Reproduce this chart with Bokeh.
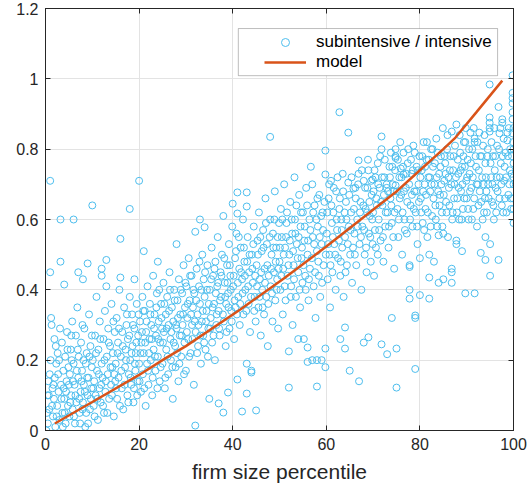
from bokeh.plotting import figure
from bokeh.models import (ColumnDataSource, FixedTicker, NumeralTickFormatter, LinearAxis,
                          Legend, LegendItem, BoxAnnotation, Range1d)
from bokeh.embed import file_html
from bokeh.resources import INLINE

# ---- data ----
pts = [
 (0.5,0.02),(0.8,0.06),(1.0,0.71),(1.0,0.45),(1.2,0.32),(1.3,0.3),(1.5,0.12),(1.6,0.04),(1.8,0.09),(2.0,0.15),(2.1,0.01),(2.3,0.19),(2.5,0.07),(2.6,0.22),(2.8,0.11),(3.0,0.03),(3.2,0.6),(3.2,0.48),(3.3,0.13),(3.5,0.25),(3.6,0.05),(3.8,0.17),(4.0,0.415),(4.0,0.09),(4.2,0.21),(4.3,0.02),(4.5,0.14),(4.6,0.28),(4.8,0.07),(4.9,0.18),(1.1,0.2),(2.2,0.24),(0.6,0.14),(0.7,0.1),(3.9,0.12),
 (5.1,0.04),(5.2,0.16),(5.4,0.23),(5.5,0.1),(5.7,0.31),(5.8,0.06),(6.0,0.6),(6.0,0.19),(6.2,0.13),(6.3,0.02),(6.5,0.27),(6.6,0.08),(6.8,0.35),(7.0,0.45),(7.0,0.15),(7.1,0.21),(7.3,0.05),(7.5,0.11),(7.6,0.25),(7.8,0.17),(8.0,0.43),(8.0,0.08),(8.2,0.13),(8.3,0.29),(8.5,0.01),(8.6,0.19),(8.8,0.22),(9.0,0.475),(9.0,0.1),(9.2,0.15),(9.3,0.33),(9.5,0.06),(9.6,0.24),(9.8,0.12),(9.9,0.18),
 (10.0,0.64),(10.1,0.2),(10.3,0.07),(10.4,0.14),(10.6,0.27),(10.7,0.1),(10.9,0.38),(11.0,0.17),(11.2,0.03),(11.3,0.23),(11.5,0.12),(11.6,0.31),(11.8,0.08),(12.0,0.46),(12.0,0.44),(12.0,0.19),(12.2,0.15),(12.4,0.26),(12.5,0.05),(12.7,0.34),(12.8,0.11),(13.0,0.485),(13.0,0.41),(13.1,0.21),(13.3,0.16),(13.4,0.29),(13.6,0.09),(13.8,0.24),(14.0,0.13),(14.1,0.36),(14.3,0.18),(14.4,0.22),(14.6,0.04),(14.8,0.28),(14.9,0.14),
 (15.0,0.19),(15.2,0.32),(15.3,0.09),(15.5,0.25),(15.6,0.15),(15.8,0.4),(16.0,0.545),(16.0,0.435),(16.1,0.21),(16.3,0.12),(16.4,0.28),(16.6,0.06),(16.8,0.35),(17.0,0.18),(17.1,0.23),(17.3,0.3),(17.5,0.1),(17.6,0.26),(17.8,0.16),(18.0,0.63),(18.0,0.38),(18.1,0.2),(18.3,0.13),(18.5,0.33),(18.6,0.24),(18.8,0.08),(19.0,0.43),(19.0,0.29),(19.2,0.17),(19.3,0.22),(19.5,0.36),(19.7,0.14),(19.8,0.27),(20.0,0.71),(20.0,0.19),
 (20.2,0.31),(20.4,0.11),(20.5,0.25),(20.7,0.38),(20.8,0.16),(21.0,0.51),(21.0,0.22),(21.2,0.34),(21.4,0.07),(21.5,0.28),(21.7,0.19),(21.8,0.41),(22.0,0.13),(22.2,0.26),(22.3,0.36),(22.5,0.2),(22.6,0.3),(22.8,0.1),(23.0,0.44),(23.1,0.23),(23.3,0.33),(23.5,0.17),(23.6,0.27),(23.8,0.39),(24.0,0.48),(24.0,0.21),(24.2,0.31),(24.4,0.14),(24.5,0.25),(24.7,0.36),(24.9,0.29),
 (25.0,0.19),(25.2,0.42),(25.3,0.28),(25.5,0.12),(25.7,0.33),(25.8,0.23),(26.0,0.38),(26.2,0.16),(26.3,0.3),(26.5,0.45),(26.7,0.26),(26.8,0.2),(27.0,0.35),(27.2,0.09),(27.3,0.31),(27.5,0.4),(27.7,0.24),(27.8,0.18),(28.0,0.53),(28.0,0.29),(28.2,0.37),(28.4,0.14),(28.5,0.43),(28.7,0.27),(28.8,0.33),(29.0,0.21),(29.2,0.39),(29.3,0.3),(29.5,0.47),(29.7,0.25),(29.8,0.35),
 (30.0,0.17),(30.1,0.41),(30.3,0.32),(30.5,0.26),(30.6,0.49),(30.8,0.37),(31.0,0.22),(31.2,0.44),(31.3,0.3),(31.5,0.35),(31.7,0.13),(31.8,0.39),(32.0,0.565),(32.0,0.014),(32.1,0.28),(32.3,0.46),(32.5,0.33),(32.6,0.24),(32.8,0.41),(33.0,0.6),(33.0,0.36),(33.2,0.19),(33.4,0.31),(33.5,0.5),(33.7,0.27),(33.8,0.43),(34.0,0.578),(34.0,0.38),(34.2,0.23),(34.4,0.34),(34.6,0.47),(34.8,0.29),
 (35.0,0.09),(35.1,0.4),(35.3,0.32),(35.5,0.52),(35.6,0.25),(35.8,0.44),(36.0,0.36),(36.2,0.2),(36.3,0.48),(36.5,0.3),(36.7,0.41),(36.8,0.55),(37.0,0.077),(37.0,0.34),(37.2,0.27),(37.4,0.45),(37.5,0.38),(37.7,0.5),(38.0,0.61),(38.0,0.051),(38.1,0.31),(38.3,0.42),(38.5,0.24),(38.6,0.36),(38.8,0.47),(39.0,0.108),(39.0,0.39),(39.2,0.53),(39.3,0.29),(39.5,0.44),(39.7,0.34),(39.9,0.58),
 (40.0,0.645),(40.1,0.41),(40.3,0.26),(40.5,0.49),(40.6,0.35),(40.8,0.56),(41.0,0.617),(41.0,0.677),(41.0,0.145),(41.2,0.38),(41.4,0.46),(41.5,0.3),(41.7,0.52),(42.0,0.054),(42.0,0.43),(42.2,0.6),(42.3,0.33),(42.5,0.48),(42.7,0.4),(43.0,0.105),(43.0,0.677),(43.0,0.637),(43.0,0.19),(43.2,0.55),(43.4,0.36),(43.5,0.45),(43.7,0.28),(44.0,0.17),(44.0,0.165),(44.1,0.5),(44.3,0.42),(44.5,0.58),(44.7,0.38),(44.9,0.31),
 (45.0,0.057),(45.1,0.47),(45.3,0.54),(45.5,0.35),(45.6,0.62),(45.8,0.43),(46.0,0.27),(46.2,0.51),(46.3,0.4),(46.5,0.57),(46.7,0.33),(46.8,0.46),(47.0,0.66),(47.2,0.38),(47.3,0.53),(47.5,0.24),(47.7,0.44),(48.0,0.835),(48.0,0.6),(48.1,0.41),(48.3,0.5),(48.5,0.31),(48.6,0.56),(48.8,0.45),(49.0,0.68),(49.1,0.37),(49.3,0.52),(49.5,0.43),(49.7,0.29),(49.9,0.59),
 (50.0,0.48),(50.2,0.4),(50.3,0.63),(50.5,0.55),(50.7,0.33),(50.8,0.46),(51.0,0.7),(51.2,0.52),(51.3,0.37),(51.5,0.59),(51.7,0.44),(52.0,0.122),(52.0,0.225),(52.1,0.5),(52.3,0.65),(52.5,0.41),(52.7,0.56),(52.8,0.3),(53.0,0.47),(53.2,0.72),(53.3,0.6),(53.5,0.38),(53.7,0.53),(54.0,0.45),(54.0,0.26),(54.2,0.67),(54.4,0.35),(54.5,0.58),(54.7,0.49),(54.9,0.42),
 (55.0,0.62),(55.2,0.26),(55.3,0.54),(55.5,0.44),(55.7,0.69),(56.0,0.236),(56.0,0.195),(56.0,0.5),(56.2,0.37),(56.4,0.6),(56.5,0.46),(56.7,0.75),(57.0,0.7),(57.0,0.2),(57.1,0.55),(57.3,0.41),(57.5,0.64),(57.7,0.32),(58.0,0.125),(58.0,0.2),(58.0,0.51),(58.2,0.58),(58.4,0.44),(58.5,0.67),(58.7,0.38),(59.0,0.53),(59.0,0.2),(59.2,0.62),(59.4,0.47),(59.8,0.18),(59.8,0.233),(59.8,0.728),(59.8,0.796),
 (60.1,0.56),(60.3,0.43),(60.5,0.66),(60.7,0.5),(60.8,0.35),(61.0,0.71),(61.2,0.59),(61.3,0.45),(61.5,0.62),(61.7,0.53),(62.0,0.4),(62.1,0.68),(62.3,0.57),(62.5,0.49),(62.8,0.905),(62.8,0.63),(63.0,0.26),(63.0,0.44),(63.2,0.6),(63.4,0.52),(63.5,0.73),(63.7,0.38),(64.0,0.233),(64.0,0.293),(64.0,0.55),(64.2,0.65),(64.4,0.47),(64.7,0.847),(64.7,0.705),(64.8,0.58),
 (65.0,0.17),(65.1,0.5),(65.3,0.62),(65.5,0.42),(65.8,0.688),(66.0,0.56),(66.2,0.69),(66.4,0.47),(66.6,0.6),(66.9,0.768),(66.9,0.73),(67.0,0.14),(67.1,0.53),(67.3,0.65),(67.5,0.4),(67.7,0.58),(68.0,0.71),(68.0,0.25),(68.2,0.5),(68.4,0.63),(68.6,0.45),(68.8,0.69),(69.0,0.74),(69.0,0.265),(69.1,0.56),(69.3,0.61),(69.5,0.48),(69.7,0.67),(69.9,0.714),(69.9,0.53),
 (70.0,0.62),(70.2,0.44),(70.4,0.57),(70.5,0.72),(70.7,0.66),(71.0,0.76),(71.0,0.5),(71.2,0.6),(71.4,0.69),(71.6,0.54),(71.8,0.836),(71.8,0.8),(71.8,0.245),(72.0,0.64),(72.2,0.48),(72.4,0.72),(72.6,0.58),(72.9,0.7),(72.9,0.69),(73.0,0.217),(73.1,0.62),(73.3,0.52),(73.5,0.75),(73.7,0.66),(74.0,0.32),(74.0,0.59),(74.2,0.7),(74.5,0.46),(74.8,0.8),(74.8,0.78),(74.8,0.775),(74.8,0.697),(75.0,0.122),(75.0,0.233),
 (75.2,0.63),(75.4,0.55),(75.6,0.72),(75.9,0.745),(76.0,0.67),(76.2,0.5),(76.5,0.79),(76.5,0.728),(76.7,0.6),(77.0,0.69),(77.2,0.56),(77.4,0.76),(77.8,0.47),(77.8,0.465),(77.8,0.4),(77.8,0.375),(78.0,0.64),(78.2,0.73),(78.4,0.58),(78.6,0.81),(78.8,0.68),(79.0,0.327),(79.0,0.32),(79.0,0.175),(79.1,0.62),(79.3,0.75),(79.5,0.53),(79.7,0.7),(79.9,0.78),
 (80.0,0.385),(80.0,0.49),(80.2,0.66),(80.4,0.74),(80.6,0.59),(80.8,0.82),(81.0,0.7),(81.2,0.63),(81.4,0.77),(81.6,0.55),(81.8,0.72),(82.0,0.375),(82.0,0.435),(82.0,0.5),(82.2,0.68),(82.4,0.8),(82.6,0.61),(82.8,0.75),(83.0,0.48),(83.1,0.7),(83.3,0.64),(83.5,0.83),(83.7,0.58),(84.0,0.42),(84.0,0.555),(84.1,0.73),(84.3,0.67),(84.5,0.78),(84.7,0.62),(84.9,0.86),
 (85.0,0.43),(85.0,0.56),(85.2,0.71),(85.4,0.76),(85.6,0.65),(85.8,0.8),(86.0,0.55),(86.2,0.69),(86.4,0.74),(86.8,0.85),(86.8,0.46),(86.8,0.45),(86.8,0.42),(87.0,0.62),(87.2,0.78),(87.4,0.7),(87.8,0.87),(87.8,0.54),(87.8,0.53),(88.0,0.66),(88.2,0.73),(88.4,0.6),(88.6,0.79),(88.8,0.68),(89.0,0.51),(89.0,0.75),(89.2,0.63),(89.4,0.82),(89.7,0.82),(89.7,0.39),(89.9,0.71),
 (90.0,0.66),(90.2,0.77),(90.4,0.6),(90.6,0.73),(90.8,0.847),(91.0,0.69),(91.2,0.8),(91.4,0.63),(91.7,0.83),(91.7,0.82),(91.7,0.39),(92.0,0.75),(92.2,0.58),(92.4,0.7),(92.7,0.847),(92.9,0.78),(93.0,0.505),(93.1,0.65),(93.3,0.72),(93.5,0.81),(93.7,0.62),(94.0,0.485),(94.0,0.55),(94.0,0.76),(94.2,0.68),(94.5,0.8),(94.9,0.984),(94.9,0.89),(94.9,0.875),(94.9,0.86),(94.9,0.85),
 (95.0,0.44),(95.0,0.53),(95.2,0.72),(95.4,0.65),(95.6,0.78),(95.8,0.6),(96.0,0.74),(96.2,0.69),(96.5,0.81),(96.8,0.485),(96.8,0.92),(97.0,0.845),(97.0,0.66),(97.3,0.76),(97.6,0.885),(97.6,0.875),(97.8,0.62),(98.0,0.71),(98.3,0.79),(98.7,0.847),(98.7,0.825),(98.9,0.67),(99.2,0.74),(99.5,0.63),(99.8,1.01),(99.8,0.96),(99.8,0.945),(99.8,0.93),(99.8,0.905),(99.8,0.885),(99.8,0.845),(100.0,0.59),(100.0,0.7),(100.0,0.76),(100.0,0.8),
]
pts_core = [
 (0.3,0.05),(0.4,0.1),(0.9,0.16),(1.4,0.07),(1.7,0.13),(2.4,0.04),(2.7,0.16),(2.9,0.2),(3.4,0.09),(3.7,0.01),(4.1,0.05),(4.4,0.11),(4.7,0.23),(5.0,0.13),(5.3,0.08),(5.6,0.2),(5.9,0.14),(6.1,0.04),(6.4,0.1),(6.7,0.17),(6.9,0.23),(7.2,0.09),(7.4,0.02),(7.7,0.14),(7.9,0.06),(8.1,0.2),(8.4,0.11),(8.7,0.05),(8.9,0.15),(9.1,0.02),(9.4,0.21),(9.7,0.09),(0.2,0.0),(1.9,0.26),(3.1,0.29),(5.5,0.27),(7.9,0.3),(9.9,0.27),
 (10.2,0.12),(10.5,0.04),(10.8,0.22),(11.1,0.09),(11.4,0.16),(11.7,0.26),(11.9,0.13),(12.3,0.07),(12.6,0.2),(12.9,0.14),(13.2,0.05),(13.5,0.25),(13.9,0.18),(14.2,0.1),(14.5,0.31),(14.7,0.16),(15.1,0.12),(15.4,0.22),(15.7,0.29),(15.9,0.07),(16.2,0.17),(16.5,0.24),(16.9,0.13),(17.2,0.2),(17.4,0.33),(17.7,0.08),(17.9,0.27),(18.2,0.15),(18.4,0.22),(18.7,0.3),(18.9,0.12),(19.1,0.19),(19.4,0.25),(19.6,0.1),(19.9,0.33),
 (20.1,0.14),(20.3,0.22),(20.6,0.28),(20.9,0.34),(21.1,0.12),(21.3,0.25),(21.6,0.31),(21.9,0.17),(22.1,0.22),(22.4,0.33),(22.7,0.26),(22.9,0.15),(23.2,0.29),(23.4,0.21),(23.7,0.35),(23.9,0.12),(24.1,0.26),(24.3,0.4),(24.6,0.18),(24.8,0.32),(25.1,0.25),(25.4,0.36),(25.6,0.15),(25.9,0.29),(26.1,0.21),(26.4,0.34),(26.6,0.4),(26.9,0.28),(27.1,0.18),(27.4,0.25),(27.6,0.37),(27.9,0.3),(28.1,0.22),(28.3,0.32),(28.6,0.19),(28.9,0.4),(29.1,0.27),(29.4,0.33),(29.6,0.16),(29.9,0.42),
 (30.2,0.28),(30.4,0.36),(30.7,0.21),(30.9,0.44),(31.1,0.33),(31.4,0.26),(31.6,0.4),(31.9,0.31),(32.2,0.37),(32.4,0.22),(32.7,0.3),(32.9,0.48),(33.1,0.27),(33.3,0.4),(33.6,0.34),(33.9,0.25),(34.1,0.45),(34.3,0.31),(34.5,0.4),(34.7,0.21),(34.9,0.36),(35.2,0.29),(35.4,0.43),(35.7,0.35),(35.9,0.27),(36.1,0.46),(36.4,0.39),(36.6,0.33),(36.9,0.42),(37.1,0.29),(37.3,0.37),(37.6,0.44),(37.9,0.33),(38.2,0.49),(38.4,0.38),(38.7,0.28),(38.9,0.42),(39.1,0.35),(39.4,0.47),(39.6,0.4),(39.8,0.31),(40.2,0.44),(40.4,0.37),(40.7,0.51),(40.9,0.33),(41.1,0.42),(41.3,0.55),(41.6,0.36),(41.8,0.45),(42.1,0.39),(42.4,0.52),(42.6,0.44),(42.9,0.34),(43.1,0.48),(43.3,0.41),(43.6,0.5),(43.9,0.38),(44.2,0.46),(44.4,0.53),(44.6,0.34),(44.8,0.44),
 (45.2,0.41),(45.4,0.5),(45.7,0.38),(45.9,0.55),(46.1,0.45),(46.4,0.35),(46.6,0.52),(46.9,0.42),(47.1,0.59),(47.4,0.47),(47.6,0.36),(47.9,0.55),(48.2,0.46),(48.4,0.39),(48.7,0.52),(48.9,0.6),(49.2,0.48),(49.4,0.4),(49.6,0.55),(49.8,0.46),(50.1,0.52),(50.4,0.44),(50.6,0.6),(50.9,0.5),(51.1,0.41),(51.4,0.55),(51.6,0.62),(51.9,0.47),(52.2,0.54),(52.4,0.38),(52.6,0.6),(52.9,0.51),(53.1,0.43),(53.4,0.56),(53.6,0.64),(53.9,0.49),(54.1,0.55),(54.3,0.4),(54.6,0.62),(54.8,0.52),(55.1,0.47),(55.4,0.58),(55.6,0.4),(55.9,0.64),(56.1,0.54),(56.3,0.43),(56.6,0.57),(56.9,0.49),(57.2,0.62),(57.4,0.53),(57.6,0.45),(57.9,0.6),(58.1,0.66),(58.3,0.48),(58.6,0.55),(58.9,0.61),(59.1,0.42),(59.3,0.57),(59.6,0.65),(59.9,0.5),
 (60.2,0.62),(60.4,0.53),(60.6,0.7),(60.9,0.47),(61.1,0.64),(61.4,0.55),(61.6,0.69),(61.9,0.5),(62.2,0.6),(62.4,0.72),(62.7,0.54),(62.9,0.66),(63.1,0.48),(63.3,0.57),(63.6,0.68),(63.9,0.62),(64.1,0.45),(64.3,0.6),(64.6,0.53),(64.9,0.67),(65.2,0.57),(65.4,0.72),(65.7,0.52),(65.9,0.63),(66.1,0.5),(66.3,0.66),(66.7,0.58),(66.8,0.7),(67.2,0.62),(67.4,0.55),(67.6,0.74),(67.9,0.64),(68.1,0.57),(68.3,0.69),(68.5,0.52),(68.7,0.62),(68.9,0.77),(69.2,0.65),(69.4,0.55),(69.6,0.71),(69.8,0.6),(70.1,0.68),(70.3,0.74),(70.6,0.52),(70.8,0.64),(71.1,0.7),(71.3,0.57),(71.5,0.78),(71.7,0.65),(71.9,0.72),(72.1,0.55),(72.3,0.67),(72.5,0.77),(72.7,0.62),(73.2,0.68),(73.4,0.58),(73.6,0.72),(73.8,0.79),(73.9,0.64),(74.1,0.75),(74.3,0.55),(74.4,0.68),(74.6,0.62),(74.7,0.74),(75.1,0.68),(75.3,0.77),(75.5,0.6),(75.7,0.66),(75.8,0.82),(76.1,0.72),(76.3,0.62),(76.4,0.75),(76.6,0.68),(76.8,0.57),(77.1,0.73),(77.3,0.65),(77.5,0.8),(77.7,0.7),(77.9,0.6),(78.1,0.77),(78.3,0.67),(78.5,0.74),(78.7,0.63),(78.9,0.79),(79.2,0.68),(79.4,0.58),(79.6,0.74),(79.8,0.65),
 (80.1,0.72),(80.3,0.62),(80.5,0.78),(80.7,0.68),(80.9,0.57),(81.1,0.75),(81.3,0.67),(81.5,0.82),(81.7,0.62),(81.9,0.77),(82.1,0.72),(82.3,0.58),(82.5,0.7),(82.7,0.8),(82.9,0.66),(83.2,0.76),(83.4,0.6),(83.6,0.72),(83.8,0.79),(83.9,0.68),(84.2,0.64),(84.4,0.75),(84.6,0.7),(84.8,0.58),(85.1,0.67),(85.3,0.78),(85.5,0.73),(85.7,0.62),(85.9,0.84),(86.1,0.72),(86.3,0.64),(86.5,0.78),(86.7,0.7),(86.9,0.6),(87.1,0.74),(87.3,0.66),(87.5,0.81),(87.7,0.72),(87.9,0.62),(88.1,0.77),(88.3,0.69),(88.5,0.84),(88.7,0.74),(88.9,0.6),(89.1,0.7),(89.3,0.78),(89.5,0.66),(89.6,0.75),(89.8,0.86),(90.1,0.72),(90.3,0.63),(90.5,0.8),(90.7,0.68),(90.9,0.76),(91.1,0.6),(91.3,0.72),(91.5,0.86),(91.6,0.66),(91.9,0.78),(92.1,0.7),(92.3,0.82),(92.5,0.64),(92.6,0.74),(92.8,0.68),(93.2,0.78),(93.4,0.6),(93.6,0.7),(93.8,0.84),(93.9,0.66),(94.1,0.72),(94.3,0.62),(94.4,0.78),(94.6,0.7),(94.7,0.66),(95.1,0.76),(95.3,0.82),(95.5,0.7),(95.7,0.64),(95.9,0.86),(96.1,0.78),(96.3,0.62),(96.4,0.72),(96.6,0.68),(96.9,0.8),(97.1,0.72),(97.2,0.86),(97.4,0.7),(97.5,0.64),(97.7,0.78),(97.9,0.83),(98.1,0.75),(98.2,0.66),(98.4,0.72),(98.5,0.62),(98.8,0.78),(99.0,0.86),(99.1,0.7),(99.3,0.8),(99.4,0.66),(99.6,0.73),(99.7,0.78),(99.9,0.66),(100.0,0.63),(100.0,0.72),(100.0,0.86),(99.9,0.82),
]
firm_pct = [q[0] for q in pts + pts_core]
share = [q[1] for q in pts + pts_core]

model_x = [2, 10, 20, 25.6, 30, 41.7, 51, 60, 70, 75.2, 80, 85, 87.6, 92, 97.6]
model_y = [0.02, 0.081, 0.158, 0.205, 0.24, 0.345, 0.433, 0.523, 0.628, 0.682, 0.74, 0.80, 0.833, 0.904, 0.995]

x_ticks = [0, 20, 40, 60, 80, 100]
y_ticks = [0, 0.2, 0.4, 0.6, 0.8, 1.0, 1.2]

FONT = "Liberation Sans"
DARK = "#262626"

p = figure(width=527, height=490, output_backend="svg", toolbar_location=None,
           x_range=Range1d(0, 100), y_range=Range1d(0, 1.2),
           min_border_left=45, min_border_right=14, min_border_top=8, min_border_bottom=60)
p.background_fill_color = "white"
p.border_fill_color = "white"
p.outline_line_color = DARK
p.outline_line_width = 1

src = ColumnDataSource(dict(x=firm_pct, y=share))
r_pts = p.scatter("x", "y", source=src, marker="circle", size=7, fill_color=None,
                  line_color="#4DBEEE", line_width=1)
r_mod = p.line(model_x, model_y, line_color="#D95319", line_width=2.5)

for ax, ticks in ((p.xaxis[0], x_ticks), (p.yaxis[0], y_ticks)):
    ax.ticker = FixedTicker(ticks=ticks)
    ax.major_tick_in = 5
    ax.major_tick_out = 0
    ax.minor_tick_line_color = None
    ax.axis_line_color = DARK
    ax.major_tick_line_color = DARK
    ax.major_label_text_font = FONT
    ax.major_label_text_font_size = "16px"
    ax.major_label_text_color = DARK
    ax.major_label_standoff = 7
p.yaxis[0].formatter = NumeralTickFormatter(format="0.[0]")
p.xaxis[0].axis_label = "firm size percentile"
p.xaxis[0].axis_label_text_font = FONT
p.xaxis[0].axis_label_text_font_size = "21px"
p.xaxis[0].axis_label_text_font_style = "normal"
p.xaxis[0].axis_label_text_color = DARK
p.xaxis[0].axis_label_standoff = 7

# box ticks on right / top (labels not drawn)
for side, ticks in (("right", y_ticks), ("above", x_ticks)):
    a = LinearAxis(ticker=FixedTicker(ticks=ticks), major_tick_in=5, major_tick_out=0,
                   minor_tick_line_color=None, major_label_text_font_size="1px",
                   major_label_text_color=None, major_label_text_alpha=0,
                   major_label_standoff=0, axis_line_color=DARK, major_tick_line_color=DARK)
    p.add_layout(a, side)

p.xgrid.ticker = FixedTicker(ticks=x_ticks)
p.ygrid.ticker = FixedTicker(ticks=y_ticks)
p.grid.grid_line_color = "#e3e3e3"
p.grid.grid_line_width = 1

# legend box
p.add_layout(BoxAnnotation(left=41.2, right=96.6, bottom=1.009, top=1.143,
                           fill_color="white", fill_alpha=1.0, line_color=DARK,
                           line_width=1, level="overlay"))
leg = Legend(items=[LegendItem(label="subintensive / intensive", renderers=[r_pts]),
                    LegendItem(label="model", renderers=[r_mod])],
             location=(215, 354), padding=4, spacing=0, glyph_width=42, glyph_height=20,
             label_height=20, label_standoff=10, border_line_alpha=0,
             background_fill_alpha=0, label_text_font=FONT, label_text_font_size="17px",
             label_text_color="black", margin=0)
p.add_layout(leg)

open("out.html", "w").write(file_html(p, INLINE))
